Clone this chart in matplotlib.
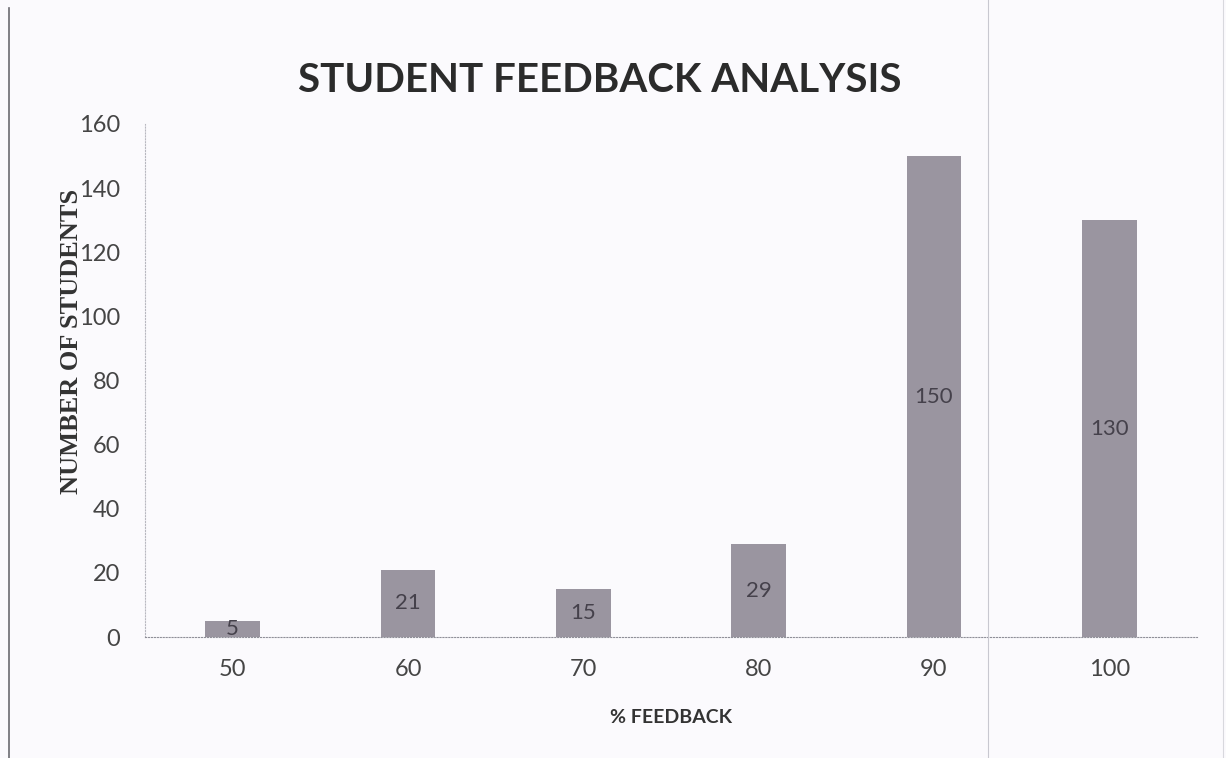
import matplotlib.pyplot as plt
from matplotlib.lines import Line2D

categories = ["50", "60", "70", "80", "90", "100"]
students = [5, 21, 15, 29, 150, 130]
yticks = [0, 20, 40, 60, 80, 100, 120, 140, 160]

plt.rcParams['font.family'] = ['Lato', 'DejaVu Sans']

fig = plt.figure(figsize=(12.26, 7.58), dpi=100, facecolor='#fbfafd')
ax = fig.add_axes([145 / 1226, 1 - 637 / 758, 1052 / 1226, 513 / 758])
ax.set_facecolor('#fbfafd')

x = list(range(len(categories)))
bars = ax.bar(x, students, width=0.31, color='#9a95a0')
for b, v in zip(bars, students):
    ax.text(b.get_x() + b.get_width() / 2, v / 2, str(v), ha='center', va='center',
            fontsize=16, color='#45414b')

ax.set_xlim(-0.5, len(categories) - 0.5)
ax.set_ylim(0, 160)
ax.set_xticks(x)
ax.set_xticklabels(categories)
ax.set_yticks(yticks)
ax.tick_params(length=0, labelsize=17, colors='#454545')
ax.tick_params(axis='x', pad=16)
ax.tick_params(axis='y', pad=18)

for s in ['top', 'right']:
    ax.spines[s].set_visible(False)
ax.spines['left'].set_color('#b8b8c0')
ax.spines['left'].set_linestyle(':')
ax.spines['bottom'].set_color('#8f8f98')
ax.spines['bottom'].set_linestyle(':')

ax.set_xlabel('% FEEDBACK', fontsize=14, fontweight='bold', color='#333333')
ax.xaxis.set_label_coords(0.5, -0.14)
ax.set_ylabel('NUMBER OF STUDENTS', fontsize=19, fontweight='bold', color='#333333',
              family='Liberation Serif')
ax.yaxis.set_label_coords(-0.059, 0.577)

fig.text(600 / 1226, 1 - 80 / 758, 'STUDENT FEEDBACK ANALYSIS', ha='center', va='center',
         fontsize=29, fontweight='bold', color='#2b2b2b')

# page edges from the scan
fig.add_artist(Line2D([9 / 1226, 9 / 1226], [0, 0.99], color='#6a6a70', lw=1.2))
fig.add_artist(Line2D([988 / 1226, 988 / 1226], [0, 1], color='#c8c8d0', lw=0.8))
fig.add_artist(Line2D([1223 / 1226, 1223 / 1226], [0, 1], color='#d8d8de', lw=0.8))

plt.savefig('out.png', facecolor=fig.get_facecolor())
